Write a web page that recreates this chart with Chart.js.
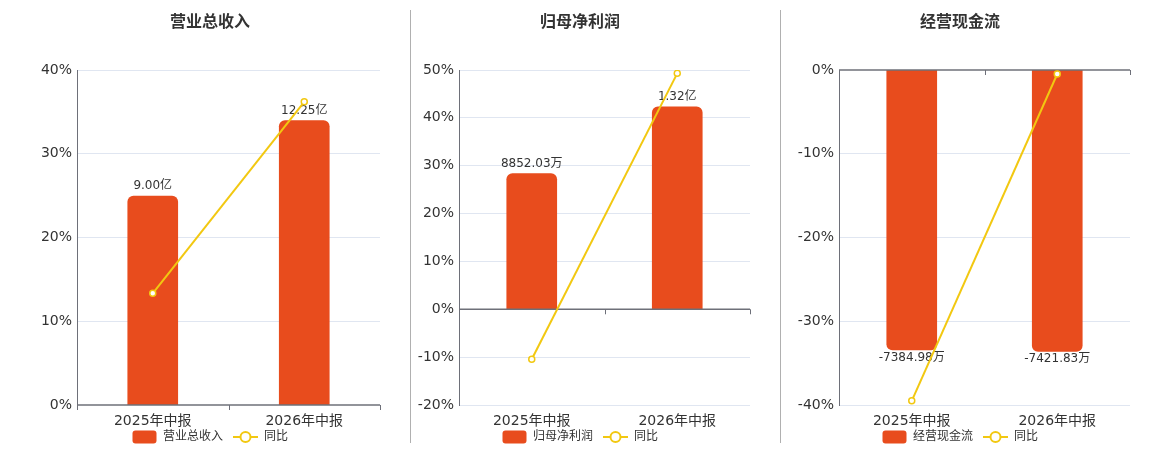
<!DOCTYPE html>
<html>
<head>
<meta charset="utf-8">
<script src="https://cdn.jsdelivr.net/npm/chart.js@4.4.1/dist/chart.umd.min.js"></script>
<style>
  html, body { margin: 0; padding: 0; background: #fff; }
  #wrap { position: relative; width: 1160px; height: 450px; overflow: hidden; background: #fff; }
  .divider { position: absolute; top: 10px; height: 433px; width: 1px; background: #b0b0b0; }
  .box { position: absolute; top: 0; height: 453px; }
</style>
</head>
<body>
<div id="wrap">
  <div class="divider" style="left:410px"></div>
  <div class="divider" style="left:780px"></div>
  <div class="box" style="left:0px;width:420px"><canvas id="c1"></canvas></div>
  <div class="box" style="left:400px;width:360px"><canvas id="c2"></canvas></div>
  <div class="box" style="left:780px;width:360px"><canvas id="c3"></canvas></div>
</div>
<script>
// ---- data ----
const categories = ['2025年中报', '2026年中报'];

const revenueTitle = '营业总收入';
const revenueValues = [90000, 122500];        // 万元
const revenueYoY = [13.34, 36.2];             // %
const revenueTicks = { min: 0, max: 40 };

const profitTitle = '归母净利润';
const profitValues = [8852.03, 13200];        // 万元
const profitYoY = [-10.45, 49.3];             // %
const profitTicks = { min: -20, max: 50 };

const cashTitle = '经营现金流';
const cashValues = [-7384.98, -7421.83];      // 万元
const cashYoY = [-39.5, -0.48];               // %
const cashTicks = { min: -40, max: 0 };

const yoyLabel = '同比';

// hidden bar-axis ranges (万元)
const revenueBarAxis = { min: 0, max: 144240 };
const profitBarAxis = { min: -6244, max: 15610 };
const cashBarAxis = { min: -8836, max: 0 };

// ---- styles ----
const BAR_COLOR = '#e84c1d';
const LINE_COLOR = '#f2c811';
const AXIS_COLOR = '#6e7079';
const GRID_COLOR = '#e0e6f1';
const TEXT_COLOR = '#333333';
const FONT = '"DejaVu Sans", "Noto Sans CJK SC", sans-serif';

function fmtValue(v) {
  if (Math.abs(v) >= 10000) return (v / 10000).toFixed(2) + '亿';
  return v.toFixed(2) + '万';
}

function makeBarIcon() {
  const c = document.createElement('canvas');
  c.width = 25; c.height = 14;
  const x = c.getContext('2d');
  x.fillStyle = BAR_COLOR;
  x.beginPath();
  x.roundRect(0.5, 0.5, 24, 13, 3);
  x.fill();
  return c;
}
function makeLineIcon() {
  const c = document.createElement('canvas');
  c.width = 25; c.height = 14;
  const x = c.getContext('2d');
  x.strokeStyle = LINE_COLOR;
  x.lineWidth = 2;
  x.beginPath(); x.moveTo(0, 7); x.lineTo(25, 7); x.stroke();
  x.beginPath(); x.arc(12.5, 7, 5, 0, Math.PI * 2);
  x.fillStyle = '#fff'; x.fill(); x.stroke();
  return c;
}
const barIcon = makeBarIcon();
const lineIcon = makeLineIcon();

const decoPlugin = {
  id: 'deco',
  afterLayout(chart) {
    // let the category labels extend below their (overlapping) box without clipping
    const xs = chart.scales.x;
    xs.bottom = xs.top + 28;
  },
  afterDatasetDraw(chart, args) {
    if (args.index !== 0) return;
    const ctx = chart.ctx;
    const xs = chart.scales.x, ys = chart.scales.y;
    const y0 = ys.getPixelForValue(0);
    ctx.save();
    // zero axis line
    ctx.strokeStyle = AXIS_COLOR;
    ctx.lineWidth = 1.5;
    ctx.beginPath();
    ctx.moveTo(xs.left, y0);
    ctx.lineTo(xs.right, y0);
    ctx.stroke();
    // category boundary ticks
    ctx.lineWidth = 1;
    const n = chart.data.labels.length;
    const w = (xs.right - xs.left) / n;
    for (let i = 0; i <= n; i++) {
      const px = Math.round(xs.left + i * w) + 0.5;
      ctx.beginPath();
      ctx.moveTo(px, y0);
      ctx.lineTo(px, y0 + 5);
      ctx.stroke();
    }
    // bar value labels
    const meta = chart.getDatasetMeta(0);
    const data = chart.data.datasets[0].data;
    ctx.fillStyle = TEXT_COLOR;
    ctx.font = '12px ' + FONT;
    ctx.textAlign = 'center';
    meta.data.forEach((el, i) => {
      const v = data[i];
      if (v >= 0) {
        ctx.textBaseline = 'alphabetic';
        ctx.fillText(fmtValue(v), el.x, el.y - 6.5);
      } else {
        ctx.textBaseline = 'top';
        ctx.fillText(fmtValue(v), el.x, el.y + 1.5);
      }
    });
    ctx.restore();
  }
};

function makeChart(id, title, barValues, yoyValues, ticks, barAxis, leftW, rightW) {
  return new Chart(document.getElementById(id), {
    data: {
      labels: categories,
      datasets: [
        {
          type: 'bar',
          label: title,
          data: barValues,
          yAxisID: 'y1',
          backgroundColor: BAR_COLOR,
          borderRadius: 6,
          borderSkipped: 'start',
          barThickness: 50,
          order: 1
        },
        {
          type: 'line',
          label: yoyLabel,
          data: yoyValues,
          yAxisID: 'y',
          borderColor: LINE_COLOR,
          borderWidth: 2,
          pointRadius: 3,
          pointBorderWidth: 1.5,
          pointBackgroundColor: '#fff',
          pointBorderColor: LINE_COLOR,
          tension: 0,
          order: 0
        }
      ]
    },
    options: {
      responsive: true,
      maintainAspectRatio: false,
      animation: false,
      layout: { padding: 0 },
      plugins: {
        title: {
          display: true,
          text: title,
          color: TEXT_COLOR,
          font: { family: FONT, size: 16, weight: 'bold', lineHeight: 1.2 },
          padding: { top: 13.5, bottom: 37.3 }
        },
        legend: {
          display: true,
          position: 'bottom',
          labels: {
            color: TEXT_COLOR,
            font: { family: FONT, size: 12 },
            usePointStyle: true,
            pointStyleWidth: 25,
            padding: 10,
            sort: (a, b) => a.datasetIndex - b.datasetIndex,
            generateLabels(chart) {
              const items = Chart.defaults.plugins.legend.labels.generateLabels(chart);
              items.forEach(it => { it.pointStyle = it.datasetIndex === 0 ? barIcon : lineIcon; });
              return items;
            }
          }
        },
        tooltip: { enabled: false }
      },
      scales: {
        x: {
          type: 'category',
          offset: true,
          grid: { display: false, drawTicks: false },
          border: { display: false },
          ticks: { color: TEXT_COLOR, font: { family: FONT, size: 14 }, padding: 8, maxRotation: 0 },
          afterFit(s) { s.height = 16; }
        },
        y: {
          type: 'linear',
          position: 'left',
          min: ticks.min,
          max: ticks.max,
          ticks: {
            stepSize: 10,
            color: TEXT_COLOR,
            font: { family: FONT, size: 14 },
            padding: 5,
            callback: v => v + '%'
          },
          grid: {
            drawTicks: false,
            color: c => (c.tick && c.tick.value === 0) ? 'rgba(0,0,0,0)' : GRID_COLOR
          },
          border: { display: true, color: AXIS_COLOR, width: 1 },
          afterFit(s) { s.width = leftW; }
        },
        y1: {
          type: 'linear',
          position: 'right',
          min: barAxis.min,
          max: barAxis.max,
          display: true,
          ticks: { display: false },
          grid: { display: false, drawTicks: false },
          border: { display: false },
          afterFit(s) { s.width = rightW; }
        }
      }
    },
    plugins: [decoPlugin]
  });
}

makeChart('c1', revenueTitle, revenueValues, revenueYoY, revenueTicks, revenueBarAxis, 77, 40);
makeChart('c2', profitTitle, profitValues, profitYoY, profitTicks, profitBarAxis, 59, 10);
makeChart('c3', cashTitle, cashValues, cashYoY, cashTicks, cashBarAxis, 59, 10);
</script>
</body>
</html>
